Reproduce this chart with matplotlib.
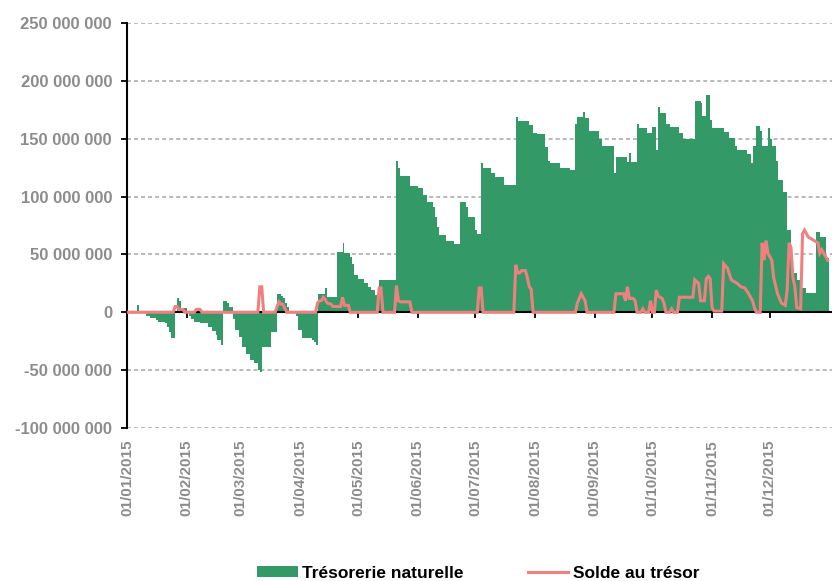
import matplotlib
matplotlib.use("Agg")
import matplotlib.pyplot as plt
from matplotlib.ticker import FuncFormatter, MultipleLocator
from matplotlib.patches import Patch
from matplotlib.lines import Line2D
import numpy as np

# Trésorerie naturelle (millions), step values starting on each day of year (0 = 01/01/2015)
tresorerie_jours = [0, 5, 6, 10, 12, 15, 16, 20, 21, 22, 23, 25, 26, 27, 28, 31, 32, 33, 35, 38,
                    42, 44, 46, 47, 49, 50, 52, 53, 55, 56, 58, 60, 62, 64, 66, 68, 69, 70, 75, 78,
                    80, 81, 82, 83, 84, 88, 89, 91, 96, 97, 98, 99, 103, 104, 109, 112, 113, 116, 117, 118,
                    120, 123, 125, 127, 129, 131, 140, 141, 142, 147, 151, 154, 156, 159, 160, 161, 162, 166, 170, 173,
                    176, 177, 181, 182, 184, 185, 189, 191, 196, 202, 203, 209, 211, 213, 217, 219, 220, 225, 230, 233,
                    234, 237, 238, 240, 245, 247, 253, 254, 260, 261, 262, 265, 266, 270, 273, 275, 276, 277, 280, 282,
                    287, 289, 295, 298, 299, 301, 303, 304, 310, 313, 316, 317, 322, 324, 325, 327, 329, 330, 333, 334,
                    335, 337, 338, 341, 343, 345, 346, 348, 350, 353, 358, 360, 363, 365]
tresorerie_millions = [0, 6, 0, -3, -5, -7, -8.5, -9.5, -13, -17, -22, 0, 12, 10, 3.5, 0, -3, -6, -8.5, -9.5,
                       -13, -16, -20, -24, -28, 9.5, 8, 5, -6, -15, -21, -30, -36, -41, -44, -50, -52, -30, -17, 16,
                       14, 12, 8, 5, 0, -3, -15, -22, -24, -26, -28, 16, 21, 13, 52, 60, 51, 48, 42, 32,
                       29, 25, 22, 19, 15, 28, 131, 125, 118, 109, 107, 101, 95, 91, 82, 74, 67, 62, 59, 95,
                       91, 82, 71, 68, 129, 125, 120, 117, 110, 169, 165, 162, 155, 154, 143, 131, 129, 125, 123, 163,
                       169, 173, 168, 157, 150, 144, 120, 134, 130, 138, 130, 163, 159, 155, 160, 140, 177, 172, 163, 160,
                       155, 150, 183, 181, 170, 188, 166, 159, 156, 151, 144, 140, 137, 129, 144, 161, 157, 144, 159, 150,
                       144, 131, 114, 104, 71, 48, 34, 28, 21, 17, 69, 65, 47]

# Solde au trésor (millions), daily readings joined by straight segments
solde_jours = [0, 24, 25, 26, 27, 29, 30, 35, 36, 38, 39, 68, 69, 70, 71, 77, 78, 79, 80, 81,
               82, 83, 98, 99, 100, 101, 102, 103, 104, 106, 107, 111, 112, 113, 115, 116, 130, 131, 132, 133,
               139, 140, 141, 142, 147, 148, 182, 183, 184, 185, 201, 202, 203, 204, 205, 207, 208, 209, 210, 211,
               233, 234, 236, 238, 239, 253, 254, 258, 259, 260, 261, 263, 264, 265, 267, 268, 269, 271, 272, 273,
               274, 275, 276, 278, 279, 280, 282, 283, 284, 286, 287, 294, 295, 297, 298, 300, 301, 302, 303, 304,
               305, 309, 310, 312, 314, 317, 319, 321, 323, 325, 326, 327, 329, 330, 331, 332, 333, 335, 336, 338,
               340, 342, 343, 344, 345, 346, 347, 348, 350, 351, 352, 354, 357, 359, 360, 361, 362, 364]
solde_millions = [0, 0, 5, 5, 2.5, 2.5, 0, 0, 2.5, 2.5, 0, 0, 22, 22, 0, 0, 5, 9, 7, 7,
                  3.5, 0, 0, 8, 10, 10, 13, 11, 8, 7, 5, 5, 13, 6, 6, 0, 0, 21, 21, 0,
                  0, 23, 10, 9, 9, 0, 0, 21, 21, 0, 0, 41, 34, 34, 36, 36, 30, 22, 20, 0,
                  0, 8, 16, 10, 0, 0, 16, 16, 10, 22, 12, 12, 10, 0, 0, 3, 0, 0, 10, 0,
                  0, 19, 14, 12, 8, 0, 0, 3, 0, 0, 13, 13, 28, 25, 10, 10, 29, 31, 29, 4,
                  1, 1, 42, 38, 28, 25, 22, 21, 16, 10, 4, 0, 0, 60, 45, 62, 51, 45, 30, 16,
                  8, 6, 19, 60, 56, 30, 22, 4, 3, 68, 71, 65, 62, 60, 51, 54, 51, 45]

mois_jours = [0, 31, 59, 90, 120, 151, 181, 212, 243, 273, 304, 334]
mois_labels = ["01/01/2015", "01/02/2015", "01/03/2015", "01/04/2015", "01/05/2015", "01/06/2015",
               "01/07/2015", "01/08/2015", "01/09/2015", "01/10/2015", "01/11/2015", "01/12/2015"]

VERT = "#339966"
ROSE = "#F08080"
GRIS = "#8c8c8c"

fig = plt.figure(figsize=(8.32, 5.81), dpi=100)
ax = fig.add_axes([127 / 832, 1 - 428 / 581, 1 - 127 / 832, (428 - 23) / 581])

t_vals = np.array(tresorerie_millions) * 1e6
s_vals = np.array(solde_millions) * 1e6

# each value holds from its day until the next listed day
ax.stairs(t_vals, tresorerie_jours, baseline=0, fill=True, facecolor=VERT, edgecolor=VERT,
          linewidth=0, zorder=2)
ax.plot(solde_jours, s_vals, color=ROSE, linewidth=2.2, zorder=4, solid_joinstyle="miter")

ax.set_xlim(0, 366.3)
ax.set_ylim(-100e6, 250e6)
ax.yaxis.set_major_locator(MultipleLocator(50e6))
ax.yaxis.set_major_formatter(FuncFormatter(lambda v, p: format(int(round(v)), ",").replace(",", " ")))

ax.grid(axis="y", color="#a6a6a6", linestyle=(0, (2.6, 2.0)), linewidth=1.1)
ax.set_axisbelow(True)

for s in ("top", "right"):
    ax.spines[s].set_visible(False)
ax.spines["left"].set_linewidth(1.5)
ax.spines["left"].set_color("black")
ax.spines["bottom"].set_position(("data", 0))
ax.spines["bottom"].set_linewidth(1.5)
ax.spines["bottom"].set_color("black")
ax.spines["bottom"].set_zorder(3)

ax.set_xticks(mois_jours)
ax.tick_params(axis="x", direction="out", length=4, width=1.3, color="black", labelbottom=False)
ax.tick_params(axis="y", direction="out", length=4.3, width=1.3, color="black", pad=6.5,
               labelsize=12, labelcolor=GRIS)
for lab in ax.get_yticklabels():
    lab.set_fontfamily("Liberation Sans")
    lab.set_fontweight("bold")

sec = ax.secondary_xaxis("bottom")
sec.set_xticks(mois_jours, labels=mois_labels)
sec.tick_params(axis="x", length=0, pad=8.6, labelsize=11, labelcolor=GRIS, labelrotation=90)
sec.spines["bottom"].set_visible(False)
for lab in sec.get_xticklabels():
    lab.set_fontfamily("Liberation Sans")
    lab.set_fontweight("bold")

handles = [Patch(facecolor=VERT, edgecolor="none", label="Trésorerie naturelle"),
           Line2D([], [], color=ROSE, linewidth=2.2, label="Solde au trésor")]
fig.legend(handles=handles, loc="center", bbox_to_anchor=(478 / 832, 1 - 573 / 581), ncol=2,
           frameon=False, handlelength=2.35, handleheight=0.55, handletextpad=0.25, columnspacing=3.7,
           prop={"family": "Liberation Sans", "weight": "bold", "size": 12.5})

fig.savefig("out.png", dpi=100)
